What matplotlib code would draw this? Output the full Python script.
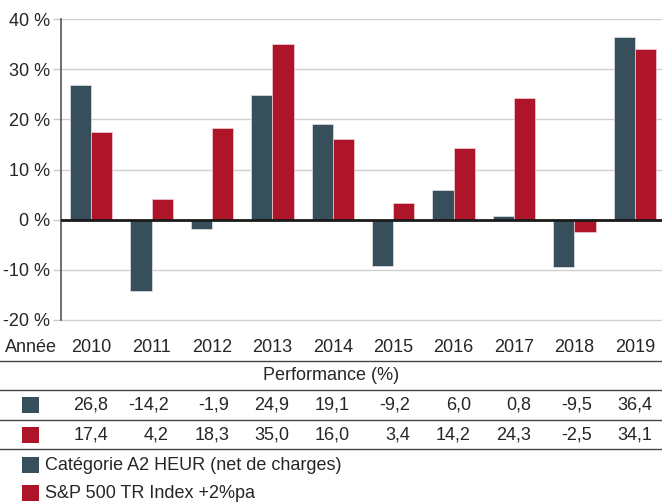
import matplotlib
matplotlib.use("Agg")
import matplotlib.pyplot as plt
from matplotlib.transforms import blended_transform_factory
from matplotlib.lines import Line2D
from matplotlib.patches import Rectangle

plt.rcParams['font.family'] = ['Liberation Sans', 'DejaVu Sans']

years = ["2010", "2011", "2012", "2013", "2014", "2015", "2016", "2017", "2018", "2019"]
fund = [26.8, -14.2, -1.9, 24.9, 19.1, -9.2, 6.0, 0.8, -9.5, 36.4]
index = [17.4, 4.2, 18.3, 35.0, 16.0, 3.4, 14.2, 24.3, -2.5, 34.1]
fund_labels = ["26,8", "-14,2", "-1,9", "24,9", "19,1", "-9,2", "6,0", "0,8", "-9,5", "36,4"]
index_labels = ["17,4", "4,2", "18,3", "35,0", "16,0", "3,4", "14,2", "24,3", "-2,5", "34,1"]
yticks = [-20, -10, 0, 10, 20, 30, 40]
ytick_labels = ["-20 %", "-10 %", "0 %", "10 %", "20 %", "30 %", "40 %"]
fund_name = "Catégorie A2 HEUR (net de charges)"
index_name = "S&P 500 TR Index +2%pa"

c_fund = "#374F5B"
c_index = "#AF1529"
txt = "#262626"

W, H = 662, 503
fig = plt.figure(figsize=(W / 100, H / 100), dpi=100)
# -20 at y=320 px, 40 at y=19 px; extend slightly below for visible gridline
ppu = (320 - 19) / 60.0
ax = fig.add_axes([61 / W, 1 - (320 + 0.4 * ppu) / H, (W - 61) / W, (320 + 0.4 * ppu - 19) / H])

x = list(range(len(years)))
bw = 0.35
ax.bar([i - bw / 2 for i in x], fund, width=bw, color=c_fund, edgecolor="#e0e4e6", linewidth=0.5, zorder=3)
ax.bar([i + bw / 2 for i in x], index, width=bw, color=c_index, edgecolor="#f0d0d4", linewidth=0.5, zorder=3)

ax.set_xlim(-0.5, 9.45)
ax.set_ylim(-20.4, 40)
ax.set_yticks(yticks)
ax.set_yticklabels(ytick_labels, fontsize=13, color=txt)
ax.tick_params(axis='y', length=6, color="#c8c8c8", width=1, pad=2)
ax.set_xticks([])
for s in ["top", "right", "bottom"]:
    ax.spines[s].set_visible(False)
ax.spines["left"].set_color("#555555")
ax.spines["left"].set_linewidth(1.2)
ax.spines["left"].set_bounds(-20, 40)
ax.grid(axis='y', color="#d0d0d0", linewidth=1, zorder=0)
ax.axhline(0, color="#1a1a1a", linewidth=2, zorder=4)

tr = blended_transform_factory(ax.transData, fig.transFigure)

def fy(py):
    return 1 - py / H

fs = 13
fig.text(5 / W, fy(347), "Année", fontsize=fs, color=txt, va="center", ha="left")
for i, yr in enumerate(years):
    ax.text(i, fy(347), yr, transform=tr, fontsize=fs, color=txt, ha="center", va="center", clip_on=False)

for py in [361, 390, 420, 449]:
    fig.add_artist(Line2D([0, 1], [fy(py), fy(py)], transform=fig.transFigure, color="#444444", linewidth=1))

fig.text(0.5, fy(376), "Performance (%)", fontsize=fs, color=txt, ha="center", va="center")

for i in x:
    ax.text(i + 0.285, fy(405), fund_labels[i], transform=tr, fontsize=fs, color=txt, ha="right", va="center", clip_on=False)
    ax.text(i + 0.285, fy(435), index_labels[i], transform=tr, fontsize=fs, color=txt, ha="right", va="center", clip_on=False)

def square(py, color):
    fig.add_artist(Rectangle((22 / W, fy(py + 8)), 17 / W, 16 / H, transform=fig.transFigure, facecolor=color, edgecolor="none"))

square(405, c_fund)
square(435, c_index)
square(465, c_fund)
square(493, c_index)
fig.text(45 / W, fy(465), fund_name, fontsize=fs, color=txt, ha="left", va="center")
fig.text(45 / W, fy(493), index_name, fontsize=fs, color=txt, ha="left", va="center")

fig.savefig("out.png", dpi=100)
